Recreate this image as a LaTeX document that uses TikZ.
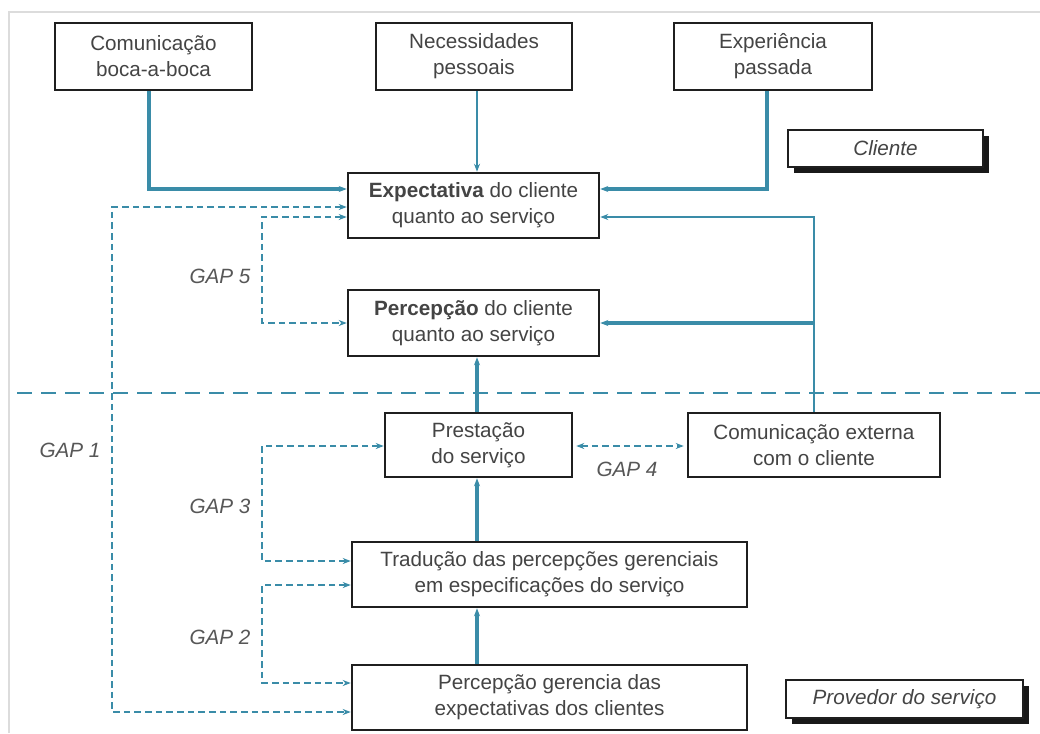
\documentclass[tikz,border=0pt]{standalone}
\usepackage{fontspec}
\setmainfont{Liberation Sans}
\usetikzlibrary{arrows.meta,calc,shadows}
\definecolor{teal1}{RGB}{58,140,168}
\definecolor{txt}{RGB}{68,68,68}
\definecolor{frame}{RGB}{220,220,220}
\begin{document}
\begin{tikzpicture}[x=0.75pt,y=-0.75pt,
  box/.style={draw=black!88,line width=1.9pt,rectangle,inner sep=0pt,
    align=center,text=txt,font=\fontsize{15.5}{19.5}\selectfont},
  tagbox/.style={box,font=\fontsize{15.5}{19.5}\selectfont\itshape,fill=white,
    drop shadow={shadow xshift=4.5pt,shadow yshift=-4.5pt,fill=black!90,opacity=1}},
  conn/.style={draw=teal1,line width=1.6pt,-{Stealth[length=6pt,width=4.5pt]}},
  thickconn/.style={conn,line width=2.4pt},
  gapline/.style={draw=teal1,line width=1.3pt,dash pattern=on 5pt off 3pt,
    {Stealth[length=6pt,width=4.5pt]}-{Stealth[length=6pt,width=4.5pt]}},
  gaplbl/.style={text=txt!90,font=\fontsize{15.5}{19.5}\selectfont\itshape}]
\useasboundingbox (0,0) rectangle (1040,733);
\fill[white] (0,0) rectangle (1040,733);
\draw[frame,line width=0.9pt] (9,733) -- (9,12) -- (1040,12);

% nodes
\node[box,minimum width=197*0.75pt,minimum height=67*0.75pt] (boca) at (153.5,56.5) {Comunicação\\boca-a-boca};
\node[box,minimum width=196*0.75pt,minimum height=67*0.75pt] (nec) at (474,56.5) {Necessidades\\pessoais};
\node[box,minimum width=198*0.75pt,minimum height=67*0.75pt] (exp) at (773,56.5) {Experiência\\passada};
\node[tagbox,minimum width=195*0.75pt,minimum height=37*0.75pt] (cli) at (885.5,148.5) {Cliente};
\node[box,minimum width=251*0.75pt,minimum height=65*0.75pt] (expect) at (473.5,205.5) {\textbf{Expectativa} do cliente\\quanto ao serviço};
\node[box,minimum width=251*0.75pt,minimum height=66*0.75pt] (perc) at (473.5,323) {\textbf{Percepção} do cliente\\quanto ao serviço};
\node[box,minimum width=187*0.75pt,minimum height=64*0.75pt] (prest) at (478.5,445) {Prestação\\do serviço};
\node[box,minimum width=252*0.75pt,minimum height=64*0.75pt] (comext) at (814,445) {Comunicação externa\\com o cliente};
\node[box,minimum width=395*0.75pt,minimum height=65*0.75pt] (trad) at (549.5,574.5) {Tradução das percepções gerenciais\\em especificações do serviço};
\node[box,minimum width=395*0.75pt,minimum height=65*0.75pt] (pger) at (549.5,697.5) {Percepção gerencia das\\expectativas dos clientes};
\node[tagbox,minimum width=237*0.75pt,minimum height=38*0.75pt] (prov) at (904.5,699) {Provedor do serviço};

% separator
\coordinate (sepL) at (17,393);
\coordinate (sepR) at (1040,393);
\draw[teal1,line width=1.8pt,dash pattern=on 11pt off 7pt] (sepL) -- (sepR);

% solid connectors
\draw[thickconn] ($(boca.south)+(-4.5,0)$) |- ($(expect.west)+(0,-16.5)$);
\draw[conn] ($(nec.south)+(3,0)$) -- ($(nec.south |- expect.north)+(3,0)$);
\draw[thickconn] ($(exp.south)+(-6,0)$) |- ($(expect.east)+(0,-16.5)$);
\draw[conn] (comext.north) |- ($(expect.east)+(0,11.5)$);
\draw[thickconn] (comext.north |- perc.east) -- (perc.east);
\draw[thickconn] ($(prest.north)+(-1.5,0)$) -- ($(prest.north |- perc.south)+(-1.5,0)$);
\draw[thickconn] ($(prest.south |- trad.north)+(-1.5,0)$) -- ($(prest.south)+(-1.5,0)$);
\draw[thickconn] ($(prest.south |- pger.north)+(-1.5,0)$) -- ($(prest.south |- trad.south)+(-1.5,0)$);

% gap connectors
\coordinate (g1) at (112,0);
\coordinate (g2) at (262,0);
\coordinate (e1) at ($(expect.west)+(0,1.5)$);
\coordinate (p1) at ($(pger.west)+(0,14.5)$);
\draw[gapline] (e1) -- (e1 -| g1) -- (p1 -| g1) -- (p1);
\coordinate (e5) at ($(expect.west)+(0,11.5)$);
\draw[gapline] (e5) -- (e5 -| g2) -- (perc.west -| g2) -- (perc.west);
\coordinate (s3) at ($(prest.west)+(0,1)$);
\coordinate (t3) at ($(trad.west)+(0,-13.5)$);
\draw[gapline] (s3) -- (s3 -| g2) -- (t3 -| g2) -- (t3);
\coordinate (t2) at ($(trad.west)+(0,10.5)$);
\coordinate (m2) at ($(pger.west)+(0,-14.5)$);
\draw[gapline] (t2) -- (t2 -| g2) -- (m2 -| g2) -- (m2);
\draw[gapline] ($(prest.east)+(3,1)$) -- ($(comext.west)+(-3,1)$);

% gap labels
\node[gaplbl] (gap1) at (70,450) {GAP 1};
\node[gaplbl] (gap5) at (220,276) {GAP 5};
\node[gaplbl] (gap3) at (220,506) {GAP 3};
\node[gaplbl] (gap2) at (220,637) {GAP 2};
\node[gaplbl] (gap4) at (627,469) {GAP 4};
\end{tikzpicture}
\end{document}
